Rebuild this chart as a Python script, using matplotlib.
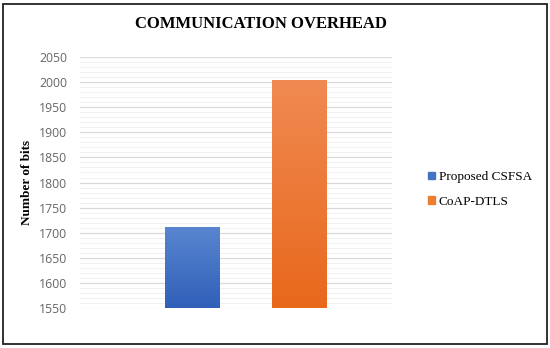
import matplotlib
matplotlib.use("Agg")
import matplotlib.pyplot as plt
import numpy as np
from matplotlib.patches import Rectangle
from matplotlib.colors import LinearSegmentedColormap

series = ["Proposed CSFSA", "CoAP-DTLS"]
values = [1712, 2005]
yticks = list(range(1550, 2051, 50))
top_colors = ["#5A86D0", "#F08A52"]
bottom_colors = ["#2F5FB8", "#E8681C"]
legend_colors = ["#4472C4", "#ED7D31"]

fig = plt.figure(figsize=(5.5, 3.48), dpi=100)
fig.patch.set_facecolor("white")
fig.add_artist(Rectangle((0.006, 0.012), 0.988, 0.976, transform=fig.transFigure,
                         fill=False, edgecolor="#222222", linewidth=1.3))

ax = fig.add_axes([0.145, 0.115, 0.568, 0.721])
ax.set_yticks(yticks)
ax.set_yticklabels([str(t) for t in yticks], fontfamily="Open Sans", fontsize=8.8, color="#666666")
ax.set_yticks(np.arange(1550, 2051, 10), minor=True)
ax.tick_params(axis="y", which="both", length=0, pad=9)
ax.tick_params(axis="x", which="both", length=0, labelbottom=False)
ax.grid(axis="y", which="major", color="#D9D9D9", linewidth=0.9)
ax.grid(axis="y", which="minor", color="#F0F0F0", linewidth=0.7)
ax.set_axisbelow(True)
for s in ax.spines.values():
    s.set_visible(False)

width = 0.505
for i, (name, v) in enumerate(zip(series, values)):
    bars = ax.bar(i, v - 1550, bottom=1550, width=width, color=legend_colors[i], label=name, zorder=2)
    cmap = LinearSegmentedColormap.from_list("g%d" % i, [bottom_colors[i], top_colors[i]])
    grad = np.linspace(0, 1, 256).reshape(-1, 1)
    im = ax.imshow(grad, cmap=cmap, aspect="auto", origin="lower",
                   extent=[i - width / 2, i + width / 2, 1550, v], zorder=3)
    im.set_clip_path(bars[0])
ax.set_xlim(-1.047, 1.87)
ax.set_ylim(1550, 2050)

ax.set_ylabel("Number of bits", fontfamily="Liberation Serif", fontweight="bold", fontsize=9.5, labelpad=4)
fig.text(0.475, 0.931, "COMMUNICATION OVERHEAD", ha="center", va="center",
         fontfamily="Liberation Serif", fontweight="bold", fontsize=12)

handles = [Rectangle((0, 0), 1, 1, color=c) for c in legend_colors]
fig.legend(handles, series, loc="center left", bbox_to_anchor=(0.757, 0.455),
           frameon=False, prop={"family": "Liberation Serif", "size": 9.5},
           handlelength=0.5, handleheight=0.5, handletextpad=0.3, labelspacing=0.95)

fig.savefig("out.png", dpi=100, facecolor="white")
